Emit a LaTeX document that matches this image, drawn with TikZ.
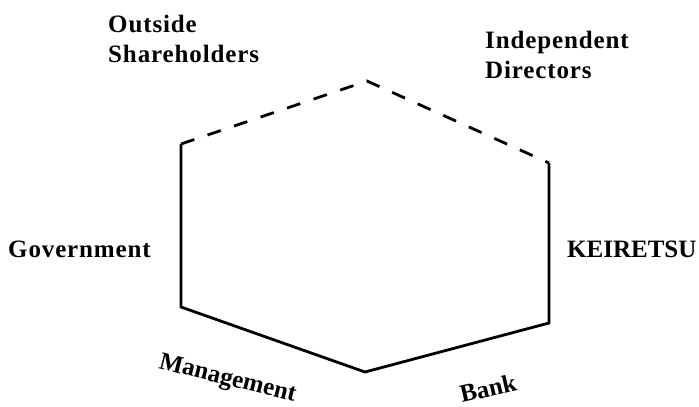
\documentclass[tikz,border=0pt]{standalone}
\usepackage{fontspec}
\setmainfont{Liberation Serif}
\newfontfamily\spacedfont[LetterSpace=3.5]{Liberation Serif}
\begin{document}
\begin{tikzpicture}[x=1pt,y=-1pt,
  lbl/.style={font=\fontsize{25}{30}\selectfont\bfseries, inner sep=0pt, anchor=base west, text=black},
  slbl/.style={lbl, font=\spacedfont\fontsize{25}{30}\selectfont\bfseries},
  edge/.style={line width=2.8pt, black},
  dashedge/.style={edge, dash pattern=on 14pt off 14pt}]
\useasboundingbox (0,0) rectangle (699,407);
\coordinate (UL) at (181,144);
\coordinate (T) at (367,81);
\coordinate (UR) at (549,163);
\coordinate (LR) at (549,323);
\coordinate (B) at (365,372);
\coordinate (LL) at (181,307);
\draw[edge] (UR) -- (LR) -- (B) -- (LL) -- (UL);
\draw[dashedge] (UL) -- (T) -- (UR);
\node[slbl] (os1) at (108,32) {Outside};
\node[slbl] (os2) at (108,62) {Shareholders};
\node[slbl] (id1) at (485,48) {Independent};
\node[slbl] (id2) at (485,78) {Directors};
\node[slbl] (gov) at (8,257) {Government};
\node[lbl] (kei) at (567,257) {KEIRETSU};
\node[lbl, rotate=-14] (man) at (158,368) {Management};
\node[lbl, rotate=13] (bank) at (462,403) {Bank};
\end{tikzpicture}
\end{document}
